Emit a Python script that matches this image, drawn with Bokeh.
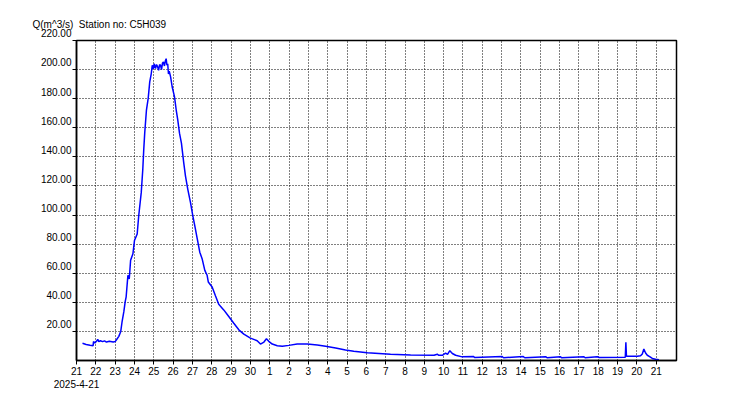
import pandas as pd
from bokeh.plotting import figure
from bokeh.models import Range1d, FixedTicker, Title, ColumnDataSource
from bokeh.embed import file_html
from bokeh.resources import INLINE

station = "Station no: C5H039"
y_title = "Q(m^3/s)"
start_date = "2025-04-21"
first_label = "2025-4-21"

# time offsets in days from 2025-04-21 00:00, and discharge Q (m^3/s)
days = [0.31, 0.5, 0.7, 0.86, 0.88, 0.95, 1.05, 1.10, 1.15, 1.24, 1.35, 1.45, 1.55, 1.7, 1.9, 2.0,
        2.07, 2.19, 2.29, 2.36, 2.45, 2.52, 2.57, 2.66, 2.73, 2.80, 2.92, 3.00, 3.14, 3.22, 3.35,
        3.43, 3.48, 3.53, 3.62, 3.71, 3.79, 3.87, 3.92, 3.97, 4.02, 4.09, 4.14, 4.19, 4.25, 4.30,
        4.35, 4.40, 4.45, 4.50, 4.55, 4.60, 4.64, 4.68, 4.72, 4.76, 4.80, 4.87, 4.95, 5.07, 5.16,
        5.24, 5.33, 5.43, 5.55, 5.64, 5.76, 5.90, 6.02, 6.12, 6.25, 6.38, 6.50, 6.64, 6.76, 6.82,
        7.02, 7.19, 7.36, 7.62, 7.88, 8.14, 8.40, 8.66, 9.00, 9.35, 9.52, 9.70, 9.83, 9.95, 10.13,
        10.39, 10.65, 10.99, 11.42, 11.94, 12.46, 12.89, 13.41, 13.92, 14.35, 15.05, 16.25, 17.29,
        18.50, 18.67, 18.75, 18.93, 19.10, 19.20, 19.32, 19.40, 19.45, 19.62, 19.96, 20.55, 20.60,
        22.03, 22.10, 23.12, 23.20, 24.28, 24.35, 25.05, 25.10, 26.26, 26.32, 26.95, 27.05, 28.40,
        28.43, 28.46, 29.02, 29.19, 29.28, 29.36, 29.45, 29.54, 29.66, 29.80, 29.97, 30.14]
q = [11.8, 11.0, 10.5, 10.2, 13.0, 12.0, 13.6, 14.5, 13.0, 13.6, 13.0, 13.5, 12.7, 13.2, 12.7, 13.0,
     14.3, 16.6, 20.0, 26.8, 33.6, 40.5, 43.8, 58.6, 56.0, 68.9, 73.4, 82.5, 87.0, 99.5, 115.4,
     131.3, 145.0, 156.3, 172.2, 180.2, 191.6, 197.3, 203.0, 200.5, 204.0, 200.7, 203.5, 202.2, 199.5, 203.5,
     202.9, 200.0, 204.5, 205.2, 202.5, 206.0, 207.5, 203.0, 204.0, 197.0, 199.0, 195.0, 188.2, 181.4, 172.2,
     165.4, 156.3, 149.5, 135.9, 126.8, 117.7, 108.6, 99.5, 92.7, 83.6, 74.5, 70.0, 62.0, 58.6, 54.0,
     50.5, 44.5, 38.7, 34.8, 30.2, 25.6, 21.1, 18.1, 15.4, 13.6, 11.3, 12.7, 15.0, 13.2, 11.3,
     10.2, 9.75, 10.4, 11.3, 11.3, 10.6, 9.75, 8.6, 7.2, 6.3, 5.4, 4.3, 3.8,
     3.6, 4.3, 3.6, 3.6, 5.0, 4.2, 6.8, 5.5, 4.8, 3.6, 2.5, 2.7, 2.0,
     2.7, 1.9, 2.7, 1.9, 2.6, 1.9, 2.6, 1.9, 2.6, 1.9, 2.6, 2.1, 2.2,
     12.5, 2.9, 2.9, 3.2, 4.5, 7.9, 5.2, 3.6, 2.7, 1.4, 0.9, 0.5]

y_ticks = [20, 40, 60, 80, 100, 120, 140, 160, 180, 200, 220]
n_day_ticks = 31

FONT = "Liberation Sans"
FS = "10px"

t0 = pd.Timestamp(start_date)
times = [t0 + pd.Timedelta(days=d) for d in days]
src = ColumnDataSource(dict(t=times, q=q))

x_end = t0 + pd.Timedelta(days=31.05)
p = figure(width=742, height=392, x_axis_type="datetime", output_backend="svg",
           toolbar_location=None, x_range=Range1d(t0, x_end), y_range=Range1d(0, 220),
           min_border_left=76, min_border_right=66, min_border_top=40, min_border_bottom=32)
p.background_fill_color = "white"
p.border_fill_color = "white"
p.outline_line_color = "black"
p.outline_line_width = 1.5

gap = "\u00a0" * 2
p.title = Title(text=y_title + gap + station, align="left", offset=-44, standoff=21,
                text_font=FONT, text_font_size=FS, text_font_style="normal", text_color="black")

tick_dates = pd.date_range(t0, periods=n_day_ticks, freq="D")
tick_ms = [float(d.value // 10**6) for d in tick_dates]
x_over = {}
for i, (ms, d) in enumerate(zip(tick_ms, tick_dates)):
    x_over[ms] = f"{d.day}\n{first_label}" if i == 0 else str(d.day)
p.xaxis.ticker = FixedTicker(ticks=tick_ms)
p.xaxis.major_label_overrides = x_over
p.xaxis.major_label_text_align = "left"
p.xaxis.major_label_standoff = 1

p.yaxis.ticker = FixedTicker(ticks=y_ticks)
p.yaxis.major_label_overrides = {float(v): f"{v:.2f}\n" for v in y_ticks}
p.yaxis.major_label_standoff = 1

for ax in (p.xaxis, p.yaxis):
    ax.major_label_text_font = FONT
    ax.major_label_text_font_size = FS
    ax.major_label_text_color = "black"
    ax.axis_line_color = "black"
    ax.axis_line_width = 1.5
    ax.major_tick_line_color = "black"
    ax.major_tick_out = 4
    ax.major_tick_in = 0
    ax.minor_tick_line_color = None

for g in (p.xgrid, p.ygrid):
    g.grid_line_color = "black"
    g.grid_line_dash = "1 2"
    g.grid_line_dash_offset = 0
    g.grid_line_width = 1

p.line("t", "q", source=src, line_color="#0000FF", line_width=1.5)

open("out.html", "w").write(file_html(p, INLINE))
